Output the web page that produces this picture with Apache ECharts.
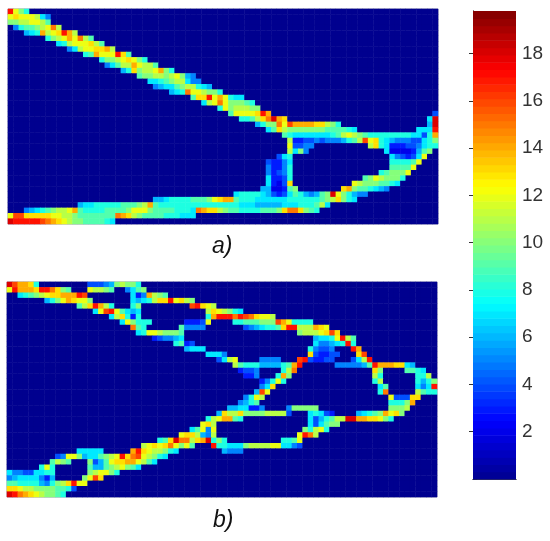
<!DOCTYPE html>
<html lang="en">
<head>
<meta charset="UTF-8">
<title>Stress maps</title>
<style>
    html, body { margin: 0; padding: 0; background: #fff; }
    #chart { width: 550px; height: 541px; }
</style>
</head>
<body>
<div id="chart"></div>
<script src="https://cdn.jsdelivr.net/npm/echarts@6/dist/echarts.min.js"></script>
<script>
// rows of each map, top to bottom. "col:values", one char per cell, a=10 ... j=19, anything missing is 0
var panelARows = [
    "0:hca8",
    "0:cdcccb75",
    "0:aabbccb9",
    "1:5899abcfb",
    "3:678ebcdheb",
    "7:8abcecfb9",
    "9:78bcccdb9",
    "11:57bccddeb",
    "14:89eccchd9",
    "17:8aabcdca8",
    "18:579bbecbb9",
    "21:68dabbcea8",
    "24:9aabbabca65",
    "26:7789abb755",
    "27:56779abb876",
    "30:678fccbaa8",
    "34:9ddhcec877",
    "36:7bcfcaaa98",
    "39:8cabbbaa",
    "41:9ccccdhe 79:4",
    "43:889bdfied 78:7i",
    "46:68aafcgeeeeddba8 78:6i",
    "48:79dbaaaaaaa999987 76:777h",
    "51:98777777789bcba9888888887748e",
    "52:b334454555689bgcd8765554478a",
    "52:c4455 67:bd87333445788",
    "52:b7a5 70:72222369a",
    "50:478 71:754347c",
    "48:43357 71:88889c",
    "48:53358 71:9999c",
    "48:53458 69:89aaac",
    "48:73348 66:9acbaaa8",
    "48:7324d 64:cbaaa9987",
    "47:662239a 62:dea998765",
    "42:78888764347986569aica8655",
    "27:6678888999acdee98887777778888889abda87",
    "13:67788888999abe9888888888888888777666667778889b7",
    "3:56789abbce988889999accca99998887feddba998888999adffda98",
    "0:cggdddddccbba9999999fedba9999888777",
    "0:ihhhhhgfedcbaa999987"
];

var panelBRows = [
    "0:igeed8 15:44456abaa8",
    "0:cheeedhhfda9 15:cbba9 22:579a",
    "2:789abcddeeehg 23:735eba9",
    "7:68acedcca 23:7678bddhcdba",
    "13:9bdheb8 23:8a 34:ghdcb",
    "16:7cghc9767 37:bdcba87",
    "19:7bd838 37:8ehhhfhgfdccb",
    "21:7ca888 33:3334c 42:88999aaagec8888",
    "23:f98 32:95555 44:4567889dhhbbbedc",
    "24:78ccbaaa9 54:abbbcdgd",
    "27:345567 57:6778chb9",
    "31:8934 57:755678h8",
    "33:6777 56:85445 64:he",
    "37:7775 56:d43344 65:dg",
    "39:47bc 47:5555 54:gh43344 64:47bh",
    "42:b98886666 51:89eh 61:5555569heeedd76",
    "43:3445 51:8bf 68:da 74:9987",
    "44:335 50:8ea 68:b8 76:88b",
    "47:358c8 68:8b 76:868a",
    "47:57d 69:79 76:757h",
    "46:6gc 69:8f 76:b988",
    "44:58cb 71:c444dd",
    "43:5689 71:888ae",
    "41:6677335 52:5aaaaa 71:aaab",
    "39:6dbbdaaaabbbb4 56:78743 65:6789aecda",
    "37:8bcee98 56:74689bbiieeddca8",
    "36:cdb 56:7479aa",
    "34:79c5c 55:a8bc8",
    "32:cddb65b 54:chfb",
    "28:89diffbdei8a8 51:889c",
    "25:bcdcdfcac9 38:h88777abbbbcc7754",
    "13:77777 23:ehdcbba87 40:6555",
    "9:45cca6779abchdfgcba87",
    "8:9ba9 15:a469cddeecb97",
    "6:8c8 15:9669abca97",
    "0:755447788 15:abcca8",
    "0:567777536 14:acgd",
    "0:998888658abdhcc",
    "0:ddcbbaaaa9984",
    "0:ihfedcbaa98"
];

var tickValues = [2, 4, 6, 8, 10, 12, 14, 16, 18];
var panelLabels = ["a)", "b)"];
var jetColors = ["#00008f", "#0000ff", "#0080ff", "#00ffff", "#80ff80", "#ffff00", "#ff8000", "#ff0000", "#800000"];
var valueMax = 19.8;
var mapCols = 80;
var mapRows = 40;
var barLevels = 64;

function cellValue(ch) {
    return parseInt(ch, 36);
}

// expands the rows into [col, row, value] cells
function toCells(rows) {
    var cells = [];
    for (var r = 0; r < mapRows; r++) {
        var line = new Array(mapCols).fill(0);
        rows[r].split(" ").forEach(function (seg) {
            var p = seg.split(":");
            for (var i = 0; i < p[1].length; i++) {
                line[+p[0] + i] = cellValue(p[1][i]);
            }
        });
        for (var c = 0; c < mapCols; c++) {
            cells.push([c, r, line[c]]);
        }
    }
    return cells;
}

function indexList(n) {
    var out = [];
    for (var i = 0; i < n; i++) out.push(i);
    return out;
}

var levelData = indexList(barLevels).map(function (i) {
    return [i * valueMax / barLevels, (i + 1) * valueMax / barLevels];
});

function mapAxes(grid) {
    return {
        x: { type: 'category', gridIndex: grid, data: indexList(mapCols), show: false },
        y: { type: 'category', gridIndex: grid, data: indexList(mapRows), inverse: true, show: false }
    };
}

var axA = mapAxes(0), axB = mapAxes(1);
var barLine = { show: true, lineStyle: { color: '#444', width: 1 } };
var labelFont = { color: '#333', fontFamily: 'Liberation Sans', fontSize: 19 };
var captionFont = { fontFamily: 'Liberation Sans', fontStyle: 'italic', fontWeight: 'normal', fontSize: 23, color: '#111' };

var myChart = echarts.init(document.getElementById('chart'), null, { renderer: 'canvas' });
myChart.setOption({
    backgroundColor: '#fff',
    animation: false,
    title: [
        { text: panelLabels[0], left: 207, top: 230, textStyle: captionFont },
        { text: panelLabels[1], left: 208, top: 504, textStyle: captionFont }
    ],
    grid: [
        { left: 8, top: 9, width: 430, height: 215, show: true, borderColor: '#8f8fb0', borderWidth: 1 },
        { left: 7, top: 282, width: 430, height: 215, show: true, borderColor: '#8f8fb0', borderWidth: 1 },
        { left: 473, top: 11, width: 43, height: 468 }
    ],
    xAxis: [
        axA.x, axB.x,
        { type: 'value', gridIndex: 2, min: 0, max: 1, position: 'bottom', axisLine: barLine, axisTick: { show: false }, axisLabel: { show: false }, splitLine: { show: false } },
        { type: 'value', gridIndex: 2, min: 0, max: 1, position: 'top', axisLine: barLine, axisTick: { show: false }, axisLabel: { show: false }, splitLine: { show: false } }
    ],
    yAxis: [
        axA.y, axB.y,
        {
            type: 'value', gridIndex: 2, min: 0, max: valueMax, interval: 2, position: 'right',
            axisLine: barLine,
            axisTick: { show: true, inside: true, length: 4, lineStyle: { color: '#333' } },
            axisLabel: Object.assign({
                margin: 6, showMinLabel: false, showMaxLabel: false,
                formatter: function (v) { return tickValues.indexOf(v) >= 0 ? String(v) : ''; }
            }, labelFont),
            splitLine: { show: false }
        },
        {
            type: 'value', gridIndex: 2, min: 0, max: valueMax, interval: 2, position: 'left',
            axisLine: barLine,
            axisTick: { show: true, inside: true, length: 4, lineStyle: { color: '#333' } },
            axisLabel: { show: false },
            splitLine: { show: false }
        }
    ],
    visualMap: {
        show: false, type: 'continuous', seriesIndex: [0, 1], dimension: 2,
        min: 0, max: valueMax, inRange: { color: jetColors }
    },
    series: [
        { type: 'heatmap', xAxisIndex: 0, yAxisIndex: 0, data: toCells(panelARows), silent: true, progressive: 0 },
        { type: 'heatmap', xAxisIndex: 1, yAxisIndex: 1, data: toCells(panelBRows), silent: true, progressive: 0 },
        {
            type: 'custom', xAxisIndex: 2, yAxisIndex: 2, data: levelData, silent: true, z: 1,
            encode: { y: [0, 1] },
            renderItem: function (params, api) {
                var lo = api.coord([0, api.value(0)]);
                var hi = api.coord([1, api.value(1)]);
                var t = (params.dataIndex + 0.5) / barLevels;
                return {
                    type: 'rect',
                    shape: { x: lo[0], y: hi[1], width: hi[0] - lo[0], height: lo[1] - hi[1] + 0.6 },
                    style: { fill: echarts.color.lerp(t, jetColors) }
                };
            }
        }
    ]
});
</script>
</body>
</html>
